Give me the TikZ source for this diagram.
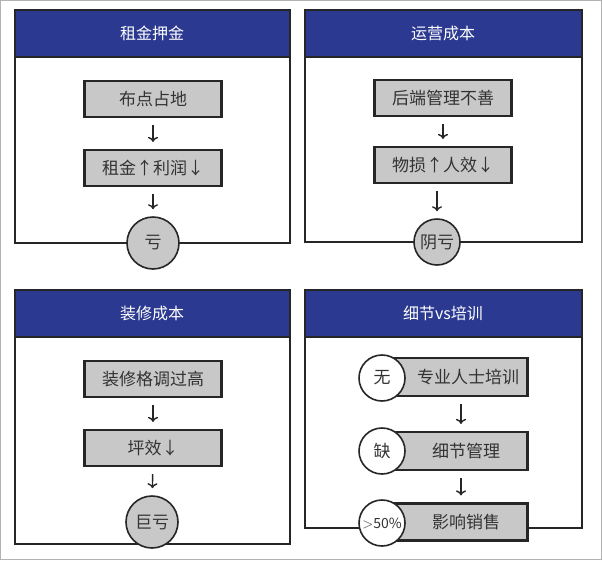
\documentclass[tikz,border=0pt]{standalone}
\usepackage{fontspec}
\setmainfont{Noto Sans CJK SC}
\usetikzlibrary{arrows.meta}
\definecolor{navy}{HTML}{2B3990}
\definecolor{boxgray}{HTML}{C8C8C8}
\begin{document}
\begin{tikzpicture}[x=1pt,y=-1pt,
    panel/.style ={draw=black!85, line width=1.6pt},
    header/.style ={fill=navy, draw=black!85, line width=1.6pt},
    title/.style ={text=white, font=\fontsize{16}{18}\selectfont},
    stepbox/.style ={draw=black!85, fill=boxgray, line width=2.2pt, minimum width=137pt, minimum height=36pt, font=\fontsize{17}{19}\selectfont, text=black!80},
    result/.style ={circle, draw=black!85, fill=boxgray, line width=1.6pt, minimum size=52pt, inner sep=0pt, font=\fontsize{17}{19}\selectfont, text=black!80},
    tag/.style ={circle, draw=black!85, fill=white, line width=1.6pt, minimum size=46pt, inner sep=0pt, font=\fontsize{17}{19}\selectfont, text=black!80},
    flow/.style ={-{To[length=5pt,width=10pt]}, line width=1.4pt, black!85, shorten <=7pt, shorten >=7pt}]
   \useasboundingbox (0,0) rectangle (602,560);
   \draw[black!30] (0.5,0.5) rectangle (601.5,559.5);
   % panels
   \draw[panel] (15,10) rectangle (290,243);
   \draw[panel] (305,10) rectangle (582,242);
   \draw[panel] (15,290) rectangle (290,544);
   \draw[panel] (305,290) rectangle (582,528);
   \draw[header] (15,10) rectangle (290,57);
   \draw[header] (305,10) rectangle (582,57);
   \draw[header] (15,290) rectangle (290,337);
   \draw[header] (305,290) rectangle (582,337);
   \node[title] (t1) at (152,33) {租金押金};
   \node[title] (t2) at (443,33) {运营成本};
   \node[title] (t3) at (152,313) {装修成本};
   \node[title] (t4) at (443,313) {细节vs培训};

   % top left
   \node[stepbox] (a1) at (153,99) {布点占地};
   \node[stepbox] (a2) at (153,168) {租金↑利润↓};
   \node[result] (a3) at (153,243) {亏};
   \draw[flow] (a1) to (a2);
   \draw[flow] (a2) to (a3);

   % top right
   \node[stepbox] (b1) at (443,98) {后端管理不善};
   \node[stepbox] (b2) at (443,165) {物损↑人效↓};
   \node[result, minimum size=46pt] (b3) at (437,242) {阴亏};
   \draw[flow] (b1) to (b2);
   \draw[flow] (b2.south -| b3) to (b3);

   % bottom left
   \node[stepbox] (c1) at (153,379) {装修格调过高};
   \node[stepbox] (c2) at (153,448) {坪效↓};
   \node[result] (c3) at (152,522) {巨亏};
   \draw[flow] (c1) to (c2);
   \draw[flow] (c2) to (c3);

   % bottom right
   \node[stepbox, minimum width=133pt, minimum height=38pt] (d1) at (461,377) {\hspace{14pt}专业人士培训};
   \node[stepbox, minimum width=133pt, minimum height=38pt] (d2) at (461,451) {\hspace{10pt}细节管理};
   \node[stepbox, minimum width=133pt, minimum height=37pt] (d3) at (461,522) {\hspace{10pt}影响销售};
   \node[tag] (e1) at (382,378) {无};
   \node[tag] (e2) at (382,451) {缺};
   \node[tag] (e3) at (382,523) {\fontsize{14}{16}\selectfont$>$50\%};
   \draw[flow] (d1) to (d2);
   \draw[flow] (d2) to (d3);
\end{tikzpicture}
\end{document}
